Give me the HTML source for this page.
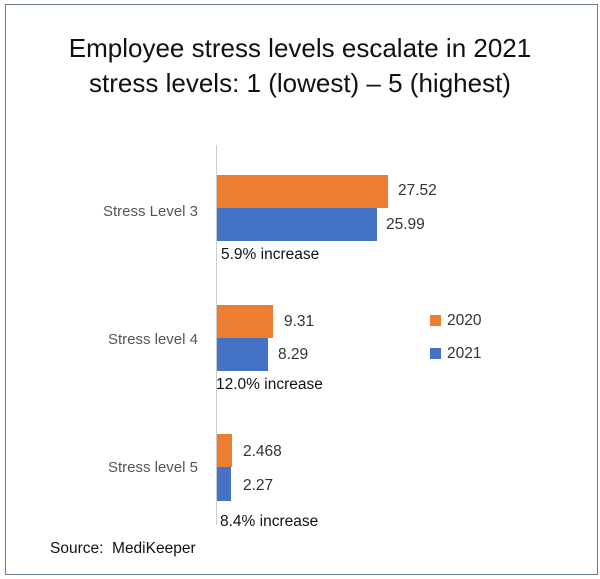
<!DOCTYPE html><html><head><style>
body{margin:0;background:#fff;width:600px;height:579px;position:relative;overflow:hidden;font-family:"Liberation Sans",sans-serif;color:#333}
.a{position:absolute;white-space:nowrap}
.t{font-size:26px;color:#111;width:600px;text-align:center;left:0}
.v{font-size:15.5px;color:#333}
.c{font-size:15px;color:#555;text-align:right;width:190px;left:8px}
.b{position:absolute}
.o{background:#ed7d31}.bl{background:#4472c4}
</style></head><body>
<div class="b" style="left:5px;top:4px;width:591px;height:569px;border:1.5px solid #6a7c94"></div>
<div class="a t" style="top:33px">Employee stress levels escalate in 2021</div>
<div class="a t" style="top:68px">stress levels: 1 (lowest) – 5 (highest)</div>
<div class="b" style="left:216px;top:145px;width:1px;height:380px;background:#ccc"></div>
<div class="b o" style="left:217px;top:175px;width:171px;height:33px"></div>
<div class="b bl" style="left:217px;top:208px;width:160px;height:33px"></div>
<div class="b o" style="left:217px;top:305px;width:56px;height:33px"></div>
<div class="b bl" style="left:217px;top:338px;width:51px;height:33px"></div>
<div class="b o" style="left:217px;top:434px;width:15px;height:33px"></div>
<div class="b bl" style="left:217px;top:467px;width:14px;height:34px"></div>
<div class="a v" style="left:398px;top:182px">27.52</div>
<div class="a v" style="left:386px;top:216px">25.99</div>
<div class="a v" style="left:284px;top:313px">9.31</div>
<div class="a v" style="left:278px;top:346px">8.29</div>
<div class="a v" style="left:243px;top:443px">2.468</div>
<div class="a v" style="left:243px;top:477px">2.27</div>
<div class="a v" style="left:221px;top:246px;color:#111">5.9% increase</div>
<div class="a v" style="left:216px;top:376px;color:#111">12.0% increase</div>
<div class="a v" style="left:220px;top:513px;color:#111">8.4% increase</div>
<div class="a c" style="top:203px">Stress Level 3</div>
<div class="a c" style="top:331px">Stress level 4</div>
<div class="a c" style="top:459px">Stress level 5</div>
<div class="b o" style="left:430px;top:315px;width:11px;height:11px"></div>
<div class="b bl" style="left:430px;top:348px;width:11px;height:11px"></div>
<div class="a v" style="left:447px;top:312px">2020</div>
<div class="a v" style="left:447px;top:345px">2021</div>
<div class="a v" style="left:50px;top:540px;color:#111">Source:&nbsp; MediKeeper</div>
</body></html>
